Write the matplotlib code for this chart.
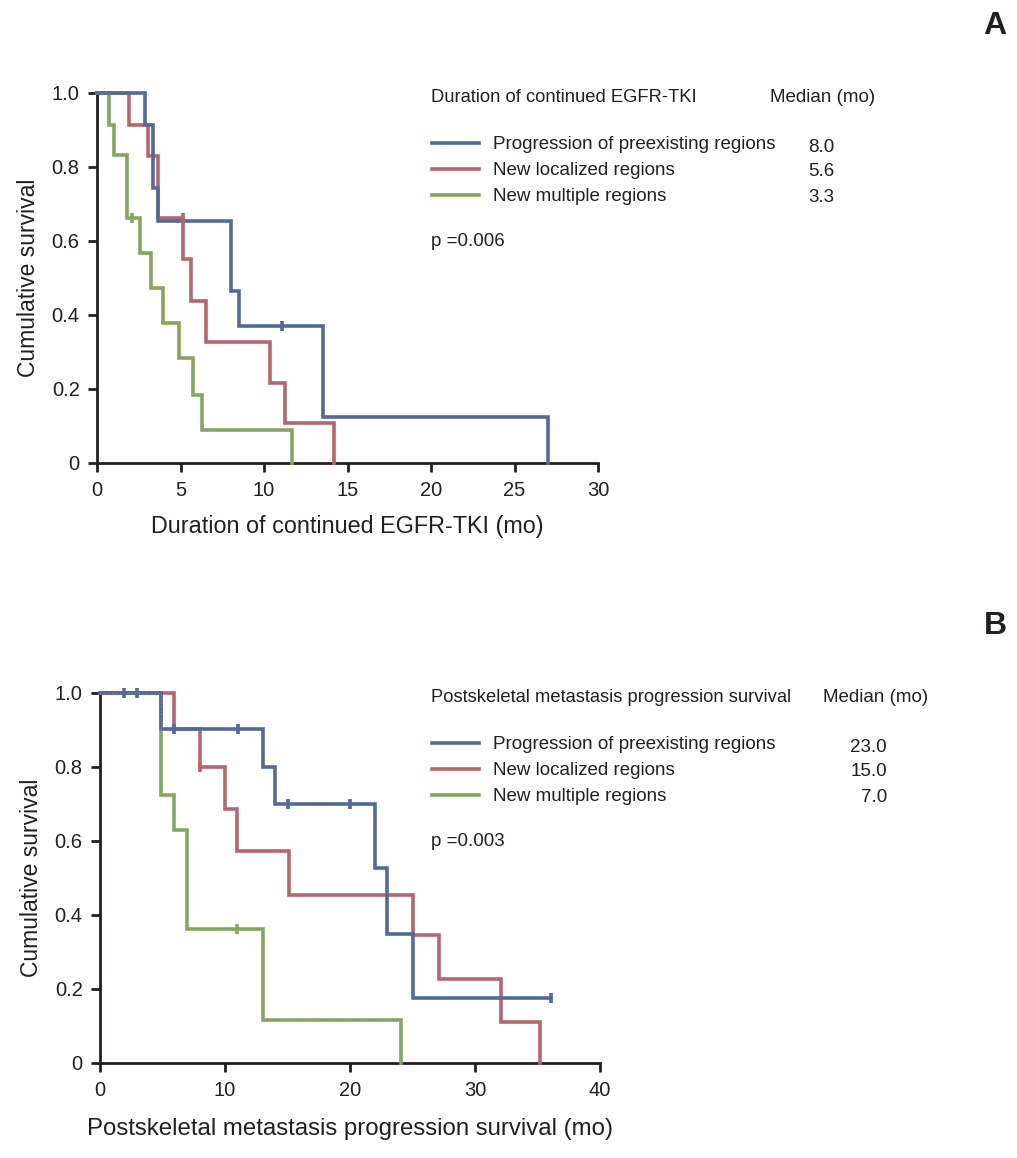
import matplotlib
matplotlib.use("Agg")
import matplotlib.pyplot as plt
from matplotlib.lines import Line2D

plt.rcParams['font.family'] = ['Liberation Sans', 'DejaVu Sans']

# ---------------- data ----------------
series_labels = ["Progression of preexisting regions", "New localized regions", "New multiple regions"]

# Panel A: Duration of continued EGFR-TKI
a_blue_t = [0, 2.9, 3.35, 3.63, 8.0, 8.5, 13.55, 27.0]
a_blue_s = [1.0, 0.913, 0.743, 0.653, 0.464, 0.369, 0.123, 0.0]
a_blue_cens_t = [11.1]
a_blue_cens_s = [0.369]

a_red_t = [0, 1.94, 3.05, 3.65, 5.16, 5.61, 6.51, 10.38, 11.25, 14.17]
a_red_s = [1.0, 0.913, 0.829, 0.663, 0.552, 0.438, 0.328, 0.217, 0.107, 0.0]
a_red_cens_t = [5.16]
a_red_cens_s = [0.663]

a_green_t = [0, 0.73, 1.03, 1.78, 2.58, 3.25, 3.95, 4.9, 5.77, 6.31, 11.65]
a_green_s = [1.0, 0.913, 0.832, 0.662, 0.567, 0.473, 0.378, 0.283, 0.185, 0.09, 0.0]
a_green_cens_t = [2.08]
a_green_cens_s = [0.662]

a_medians = ["8.0", "5.6", "3.3"]
a_title = "Duration of continued EGFR-TKI"
a_p = "p =0.006"
a_xlabel = "Duration of continued EGFR-TKI (mo)"
a_xticks = [0, 5, 10, 15, 20, 25, 30]

# Panel B: Postskeletal metastasis progression survival
b_blue_t = [0, 4.89, 13.03, 14.02, 22.03, 22.97, 25.0, 36.1]
b_blue_s = [1.0, 0.903, 0.801, 0.700, 0.528, 0.350, 0.176, 0.176]
b_blue_cens_t = [1.92, 2.94, 5.93, 11.0, 15.06, 20.0, 36.1]
b_blue_cens_s = [1.0, 1.0, 0.903, 0.903, 0.700, 0.700, 0.176]

b_red_t = [0, 5.93, 8.0, 10.01, 10.95, 15.09, 25.02, 27.1, 32.1, 35.2]
b_red_s = [1.0, 0.903, 0.801, 0.687, 0.574, 0.454, 0.346, 0.227, 0.111, 0.0]
b_red_cens_t = [8.0]
b_red_cens_s = [0.801]

b_green_t = [0, 4.89, 5.93, 6.94, 13.03, 24.1]
b_green_s = [1.0, 0.723, 0.63, 0.361, 0.117, 0.0]
b_green_cens_t = [10.95]
b_green_cens_s = [0.361]

b_medians = ["23.0", "15.0", "7.0"]
b_title = "Postskeletal metastasis progression survival"
b_p = "p =0.003"
b_xlabel = "Postskeletal metastasis progression survival (mo)"
b_xticks = [0, 10, 20, 30, 40]

yticks = [0, 0.2, 0.4, 0.6, 0.8, 1.0]
ytick_labels = ["0", "0.2", "0.4", "0.6", "0.8", "1.0"]
ylabel = "Cumulative survival"

# ---------------- style ----------------
BLUE = "#52699b"
RED = "#b8646c"
GREEN = "#82a95b"
AXC = "#231f20"
W, H = 1017, 1158
DPI = 100

fig = plt.figure(figsize=(W / DPI, H / DPI), dpi=DPI)


def fx(px):
    return px / W


def fy(py):
    return 1 - py / H


def draw_panel(ax, curves, xmax, xticks, xlabel, xl_fs, xl_pad):
    lw = 2.6
    for (t, s, ct, cs, col, dotted) in curves:
        ax.step(t, s, where='post', color=col, lw=lw, clip_on=False, solid_joinstyle='miter', zorder=3)
        if dotted:
            ax.step(t, s, where='post', color="#8f9686", lw=0.7, ls=(0, (1, 3)), clip_on=False, zorder=3.1)
        ax.plot(ct, cs, ls='none', marker='|', ms=7, mew=2.6, color=col, clip_on=False, zorder=3.2)
    ax.set_xlim(0, xmax)
    ax.set_ylim(0, 1)
    ax.set_xticks(xticks)
    ax.set_yticks(yticks)
    ax.set_yticklabels(ytick_labels)
    for side in ['top', 'right']:
        ax.spines[side].set_visible(False)
    for side in ['left', 'bottom']:
        ax.spines[side].set_linewidth(2.0)
        ax.spines[side].set_color(AXC)
    ax.tick_params(axis='both', direction='out', length=6.5, width=2.0, color=AXC,
                   labelsize=14.5, labelcolor=AXC)
    ax.tick_params(axis='y', pad=6)
    ax.tick_params(axis='x', pad=6.5)
    ax.set_xlabel(xlabel, fontsize=xl_fs, color=AXC, labelpad=xl_pad)
    ax.set_ylabel(ylabel, fontsize=16.5, color=AXC, labelpad=8.5)


# Panel A
axA = fig.add_axes([fx(97), fy(463), fx(598) - fx(97), fy(93) - fy(463)])
draw_panel(axA, [
    (a_green_t, a_green_s, a_green_cens_t, a_green_cens_s, GREEN, True),
    (a_red_t, a_red_s, a_red_cens_t, a_red_cens_s, RED, False),
    (a_blue_t, a_blue_s, a_blue_cens_t, a_blue_cens_s, BLUE, False),
], 30, a_xticks, a_xlabel, 16.8, 10.5)

# Panel B
axB = fig.add_axes([fx(100), fy(1063), fx(600) - fx(100), fy(693) - fy(1063)])
draw_panel(axB, [
    (b_green_t, b_green_s, b_green_cens_t, b_green_cens_s, GREEN, True),
    (b_red_t, b_red_s, b_red_cens_t, b_red_cens_s, RED, False),
    (b_blue_t, b_blue_s, b_blue_cens_t, b_blue_cens_s, BLUE, False),
], 40, b_xticks, b_xlabel, 17.3, 13)


def legend_block(ax, title, title_x, title_y, med_hdr_x, medians, med_x, row_y0, p_text, p_y, leg_x):
    fig.text(fx(title_x), fy(title_y), title, fontsize=13.2, color=AXC, ha='left', va='center')
    fig.text(fx(med_hdr_x), fy(title_y), "Median (mo)", fontsize=13.5, color=AXC, ha='left', va='center')
    handles = [Line2D([], [], color=BLUE, lw=2.6),
               Line2D([], [], color=RED, lw=2.6),
               Line2D([], [], color=GREEN, lw=2.6)]
    ax.legend(handles, series_labels, loc='upper left', bbox_to_anchor=(fx(leg_x), fy(row_y0 - 7)),
              bbox_transform=fig.transFigure, frameon=False, fontsize=13.5,
              handlelength=2.5, handletextpad=0.75, borderpad=0, borderaxespad=0,
              labelspacing=0.48, labelcolor=AXC)
    for i, m in enumerate(medians):
        fig.text(fx(med_x), fy(row_y0 + 4 + 25 * i), m, fontsize=13.5, color=AXC, ha='right', va='center')
    fig.text(fx(title_x), fy(p_y), p_text, fontsize=13.5, color=AXC, ha='left', va='center')


legend_block(axA, a_title, 431, 97, 770, a_medians, 834, 143, a_p, 242, 432)
legend_block(axB, b_title, 431, 697, 823, b_medians, 887, 743, b_p, 841, 432)

fig.text(fx(995), fy(26), "A", fontsize=23, fontweight='bold', color=AXC, ha='center', va='center')
fig.text(fx(995), fy(626), "B", fontsize=23, fontweight='bold', color=AXC, ha='center', va='center')

fig.savefig("out.png", dpi=DPI)
